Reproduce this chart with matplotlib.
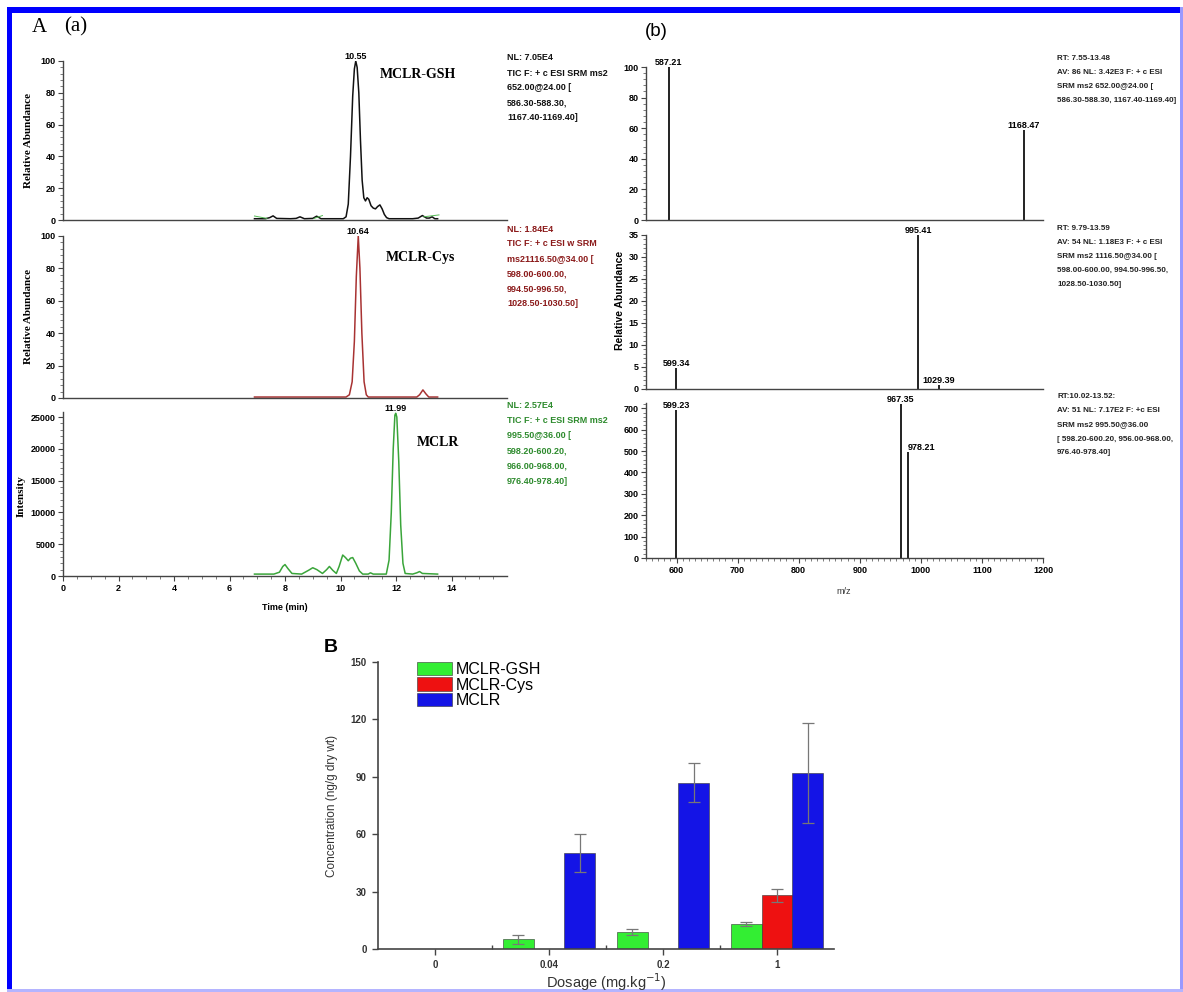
import matplotlib
matplotlib.use('Agg')
import matplotlib.pyplot as plt
import numpy as np
from matplotlib.patches import Rectangle
from matplotlib.ticker import FixedLocator, MultipleLocator

# --- chromatograms (a): retention time (min) vs signal ---
gsh_time = [6.9, 7.3, 7.45, 7.57, 7.7, 8.2, 8.4, 8.54, 8.7, 9.0, 9.14, 9.3, 10.1, 10.2, 10.28,
            10.36, 10.44, 10.5, 10.55, 10.6, 10.66, 10.72, 10.78, 10.84, 10.9, 10.96, 11.02,
            11.1, 11.18, 11.26, 11.34, 11.42, 11.5, 11.58, 11.66, 11.75, 12.6, 12.8, 12.95,
            13.1, 13.2, 13.3, 13.4, 13.5]
gsh_abund = [0.8, 0.8, 1.5, 2.6, 1.0, 0.8, 1.0, 2.0, 0.8, 1.0, 2.4, 0.8, 0.8, 2, 10,
             40, 78, 95, 100, 96, 80, 50, 25, 14, 12, 14, 13,
             9, 7.5, 7, 8.5, 9.5, 7, 3.5, 1.5, 0.8, 0.8, 1.2, 2.8,
             1.2, 1.2, 2.0, 0.8, 0.8]
gsh_base_time = [[6.9, 7.35], [9.05, 9.35], [13.0, 13.55]]
gsh_base_abund = [[2.5, 1.0], [1.0, 2.8], [2.0, 3.2]]

cys_time = [6.9, 10.2, 10.32, 10.42, 10.5, 10.57, 10.64, 10.7, 10.77, 10.85, 10.93, 11.0,
            12.75, 12.85, 12.97, 13.08, 13.18, 13.5]
cys_abund = [0.6, 0.6, 2, 10, 35, 75, 100, 80, 40, 10, 2, 0.6,
             0.6, 2, 5, 2.5, 0.6, 0.6]

mclr_time = [6.9, 7.6, 7.8, 7.92, 8.0, 8.1, 8.25, 8.6, 8.85, 9.0, 9.15, 9.35, 9.5, 9.6, 9.72,
             9.85, 9.95, 10.08, 10.18, 10.28, 10.36, 10.44, 10.55, 10.68, 10.8, 11.0, 11.08,
             11.18, 11.65, 11.75, 11.83, 11.9, 11.96, 11.99, 12.03, 12.1, 12.17, 12.25, 12.33,
             12.6, 12.75, 12.85, 12.95, 13.5]
mclr_int = [300, 300, 600, 1500, 1800, 1200, 400, 300, 900, 1300, 1000, 400, 1000, 1500, 900,
            400, 1500, 3300, 2900, 2400, 2800, 2900, 2000, 800, 300, 300, 500,
            300, 300, 2500, 10000, 20000, 25300, 25600, 25000, 18000, 8000, 2000, 400,
            300, 500, 700, 400, 300]

peak_rt = [10.55, 10.64, 11.99]

# --- MS2 spectra (b) ---
gsh_mz = [587.21, 1168.47]
gsh_rel = [100, 59]
cys_mz = [599.34, 995.41, 1029.39]
cys_rel = [4.8, 35, 0.8]
mclr_mz = [599.23, 967.35, 978.21]
mclr_rel = [690, 722, 495]

# --- bar chart B ---
dosages = ['0', '0.04', '0.2', '1']
gsh_conc = [0, 5, 9, 13]
gsh_err = [0, 2.5, 1.5, 1.0]
cys_conc = [0, 0, 0, 28]
cys_err = [0, 0, 0, 3.5]
mclr_conc = [0, 50, 87, 92]
mclr_err = [0, 10, 10, 26]

W, H = 1183, 992
NARROW = ['Liberation Sans Narrow', 'Liberation Sans', 'DejaVu Sans']
SANS = ['Liberation Sans', 'DejaVu Sans']
SERIF = ['Liberation Serif', 'DejaVu Serif']
plt.rcParams['font.family'] = NARROW

fig = plt.figure(figsize=(W / 100, H / 100), dpi=100)


def add_axes(left, right, top, bottom):
    return fig.add_axes([left / W, 1 - bottom / H, (right - left) / W, (bottom - top) / H])


def ftext(x, y, s, **kw):
    fig.text(x / W, 1 - y / H, s, **kw)


def style(ax, show_x):
    for side in ['top', 'right']:
        ax.spines[side].set_visible(False)
    for side in ['left', 'bottom']:
        ax.spines[side].set_color('#444444')
        ax.spines[side].set_linewidth(1.0)
    ax.tick_params(which='major', direction='out', length=3.5, width=0.8, color='#444444',
                   labelsize=6.5, pad=2)
    ax.tick_params(which='minor', direction='out', length=2, width=0.6, color='#666666')
    if not show_x:
        ax.tick_params(axis='x', which='both', bottom=False, labelbottom=False)
    for lbl in ax.get_xticklabels() + ax.get_yticklabels():
        lbl.set_fontweight('bold')


# ---------- (a) chromatograms ----------
axA1 = add_axes(63, 507, 61, 220)
axA2 = add_axes(63, 507, 236, 398)
axA3 = add_axes(63, 507, 412, 576)

axA1.plot(gsh_time, gsh_abund, color='#111111', lw=1.1)
for bt, ba in zip(gsh_base_time, gsh_base_abund):
    axA1.plot(bt, ba, color='#55bb55', lw=0.7)
axA2.plot(cys_time, cys_abund, color='#a83232', lw=1.1)
axA3.plot(mclr_time, mclr_int, color='#3aa53a', lw=1.1)

for ax in [axA1, axA2]:
    ax.set_ylim(0, 100)
    ax.yaxis.set_major_locator(FixedLocator([0, 20, 40, 60, 80, 100]))
    ax.yaxis.set_minor_locator(MultipleLocator(4))
axA3.set_ylim(0, 25800)
axA3.yaxis.set_major_locator(FixedLocator([0, 5000, 10000, 15000, 20000, 25000]))
axA3.yaxis.set_minor_locator(MultipleLocator(1000))
for ax in [axA1, axA2, axA3]:
    ax.set_xlim(0, 16)
axA3.xaxis.set_major_locator(FixedLocator(list(range(0, 15, 2))))
axA3.xaxis.set_minor_locator(FixedLocator(list(np.arange(0, 15.6, 0.5))))
style(axA1, False)
style(axA2, False)
style(axA3, True)

axA1.text(peak_rt[0], 100, f'{peak_rt[0]:.2f}', ha='center', va='bottom', fontsize=6.5,
          fontweight='bold', clip_on=False)
axA2.text(peak_rt[1], 100, f'{peak_rt[1]:.2f}', ha='center', va='bottom', fontsize=6.5,
          fontweight='bold', clip_on=False)
axA3.text(peak_rt[2], 25700, f'{peak_rt[2]:.2f}', ha='center', va='bottom', fontsize=6.5,
          fontweight='bold', clip_on=False)

ftext(418, 75, 'MCLR-GSH', ha='center', va='center', family=SERIF, fontweight='bold', fontsize=10)
ftext(420, 258, 'MCLR-Cys', ha='center', va='center', family=SERIF, fontweight='bold', fontsize=10)
ftext(438, 442, 'MCLR', ha='center', va='center', family=SERIF, fontweight='bold', fontsize=10)

ftext(29, 140, 'Relative Abundance', rotation=90, ha='center', va='center', family=SERIF,
      fontweight='bold', fontsize=8)
ftext(29, 317, 'Relative Abundance', rotation=90, ha='center', va='center', family=SERIF,
      fontweight='bold', fontsize=8)
ftext(21, 496, 'Intensity', rotation=90, ha='center', va='center', family=SERIF,
      fontweight='bold', fontsize=8)
ftext(285, 607, 'Time (min)', ha='center', va='center', fontweight='bold', fontsize=6.5)

ftext(32, 27, 'A', ha='left', va='center', family=SERIF, fontsize=15)
ftext(64, 27, '(a)', ha='left', va='center', family=SERIF, fontsize=15)

info_gsh = ['NL: 7.05E4', 'TIC F: + c ESI SRM ms2', '652.00@24.00 [', '586.30-588.30,',
            '1167.40-1169.40]']
info_cys = ['NL: 1.84E4', 'TIC F: + c ESI w SRM', 'ms21116.50@34.00 [', '598.00-600.00,',
            '994.50-996.50,', '1028.50-1030.50]']
info_mclr = ['NL: 2.57E4', 'TIC F: + c ESI SRM ms2', '995.50@36.00 [', '598.20-600.20,',
             '966.00-968.00,', '976.40-978.40]']
for lines, y0, col in [(info_gsh, 58, '#111111'), (info_cys, 229, '#8b1a1a'),
                       (info_mclr, 406, '#2e8b2e')]:
    for i, s in enumerate(lines):
        ftext(507, y0 + 15 * i, s, ha='left', va='center', fontsize=6.5, fontweight='bold',
              color=col)

# ---------- (b) MS2 spectra ----------
axB1 = add_axes(646, 1043, 67, 220)
axB2 = add_axes(646, 1043, 235, 389)
axB3 = add_axes(646, 1043, 403, 558)

for ax, mz, rel in [(axB1, gsh_mz, gsh_rel), (axB2, cys_mz, cys_rel), (axB3, mclr_mz, mclr_rel)]:
    ax.vlines(mz, 0, rel, color='#111111', lw=1.3)
    ax.set_xlim(550, 1200)
    for m, r in zip(mz, rel):
        ha = 'left' if m == 978.21 else 'center'
        ax.text(m, r, f'{m:.2f}', ha=ha, va='bottom', fontsize=6.5, fontweight='bold',
                clip_on=False)

axB1.set_ylim(0, 100)
axB1.yaxis.set_major_locator(FixedLocator([0, 20, 40, 60, 80, 100]))
axB1.yaxis.set_minor_locator(MultipleLocator(4))
axB2.set_ylim(0, 35)
axB2.yaxis.set_major_locator(MultipleLocator(5))
axB2.yaxis.set_minor_locator(MultipleLocator(1))
axB3.set_ylim(0, 725)
axB3.yaxis.set_major_locator(FixedLocator(list(range(0, 701, 100))))
axB3.yaxis.set_minor_locator(MultipleLocator(20))
axB3.xaxis.set_major_locator(MultipleLocator(100))
axB3.xaxis.set_minor_locator(MultipleLocator(10))
style(axB1, False)
style(axB2, False)
style(axB3, True)

ftext(620, 300, 'Relative Abundance', rotation=90, ha='center', va='center', fontweight='bold',
      fontsize=7.5)
ftext(844, 592, 'm/z', ha='center', va='center', fontsize=6.5, color='#333333')
ftext(645, 31, '(b)', ha='left', va='center', family=SANS, fontsize=13.5)

spec_gsh = ['RT: 7.55-13.48', 'AV: 86 NL: 3.42E3 F: + c ESI', 'SRM ms2 652.00@24.00 [',
            '586.30-588.30, 1167.40-1169.40]']
spec_cys = ['RT: 9.79-13.59', 'AV: 54 NL: 1.18E3 F: + c ESI', 'SRM ms2 1116.50@34.00 [',
            '598.00-600.00, 994.50-996.50,', '1028.50-1030.50]']
spec_mclr = ['RT:10.02-13.52:', 'AV: 51 NL: 7.17E2 F: +c ESI', 'SRM ms2 995.50@36.00',
             '[ 598.20-600.20, 956.00-968.00,', '976.40-978.40]']
for lines, y0 in [(spec_gsh, 58), (spec_cys, 228), (spec_mclr, 397)]:
    for i, s in enumerate(lines):
        ftext(1057, y0 + 14 * i, s, ha='left', va='center', fontsize=5.8, fontweight='bold',
              color='#222222')

# ---------- B bar chart ----------
axC = add_axes(378, 834, 662, 949)
x = np.arange(len(dosages))
bw = 0.27
series = [(gsh_conc, gsh_err, -bw, '#33ee33', 'MCLR-GSH'),
          (cys_conc, cys_err, 0.0, '#ee1111', 'MCLR-Cys'),
          (mclr_conc, mclr_err, bw, '#1414e6', 'MCLR')]
handles = []
for vals, errs, off, col, name in series:
    vals = np.array(vals, dtype=float)
    errs = np.array(errs, dtype=float)
    keep = vals > 0
    axC.bar(x[keep] + off, vals[keep], width=bw, color=col, edgecolor='#333333', linewidth=0.4,
            zorder=2)
    axC.errorbar(x[keep] + off, vals[keep], yerr=errs[keep], fmt='none', ecolor='#777777',
                 elinewidth=0.9, capsize=4, capthick=0.9, zorder=3)
    handles.append(Rectangle((0, 0), 1, 1, facecolor=col, edgecolor='#333333', linewidth=0.4))

axC.set_xlim(-0.5, 3.5)
axC.set_ylim(0, 150)
axC.set_xticks(x)
axC.set_xticklabels(dosages)
axC.xaxis.set_minor_locator(FixedLocator([0.5, 1.5, 2.5]))
axC.yaxis.set_major_locator(MultipleLocator(30))
for side in ['top', 'right']:
    axC.spines[side].set_visible(False)
for side in ['left', 'bottom']:
    axC.spines[side].set_color('#444444')
    axC.spines[side].set_linewidth(1.2)
axC.tick_params(which='major', direction='out', length=4, width=1, color='#444444',
                labelsize=7, pad=4)
axC.tick_params(which='minor', direction='in', length=3, width=1, color='#444444')
for lbl in axC.get_xticklabels() + axC.get_yticklabels():
    lbl.set_fontweight('bold')
    lbl.set_color('#333333')

axC.legend(handles, [s[4] for s in series], loc='upper left', bbox_to_anchor=(0.085, 1.0),
           frameon=False, handlelength=2.2, handleheight=0.9,
           labelspacing=0.02, handletextpad=0.25, borderpad=0, borderaxespad=0,
           prop={'family': SANS, 'size': 11.5})

ftext(332, 806, 'Concentration (ng/g dry wt)', rotation=90, ha='center', va='center',
      family=SANS, fontsize=8.5, color='#333333')
ftext(606, 982, 'Dosage (mg.kg$^{-1}$)', ha='center', va='center',
      family=SANS, fontsize=10.5, color='#333333')
ftext(331, 647, 'B', ha='center', va='center', family=SANS, fontweight='bold', fontsize=14)

# ---------- blue frame ----------
frame = [((7, 7), 5, H - 7, '#0000ff'),
         ((7, 7), W - 7, 6, '#0000ff'),
         ((W - 3, 7), 3, H - 7, '#9999ff'),
         ((7, H - 3), W - 7, 3, '#b4b4ff')]
for (fxp, fyp), w, h, col in frame:
    fig.patches.append(Rectangle((fxp / W, 1 - (fyp + h) / H), w / W, h / H,
                                 transform=fig.transFigure, facecolor=col, edgecolor='none'))

fig.savefig('out.png', dpi=100)
